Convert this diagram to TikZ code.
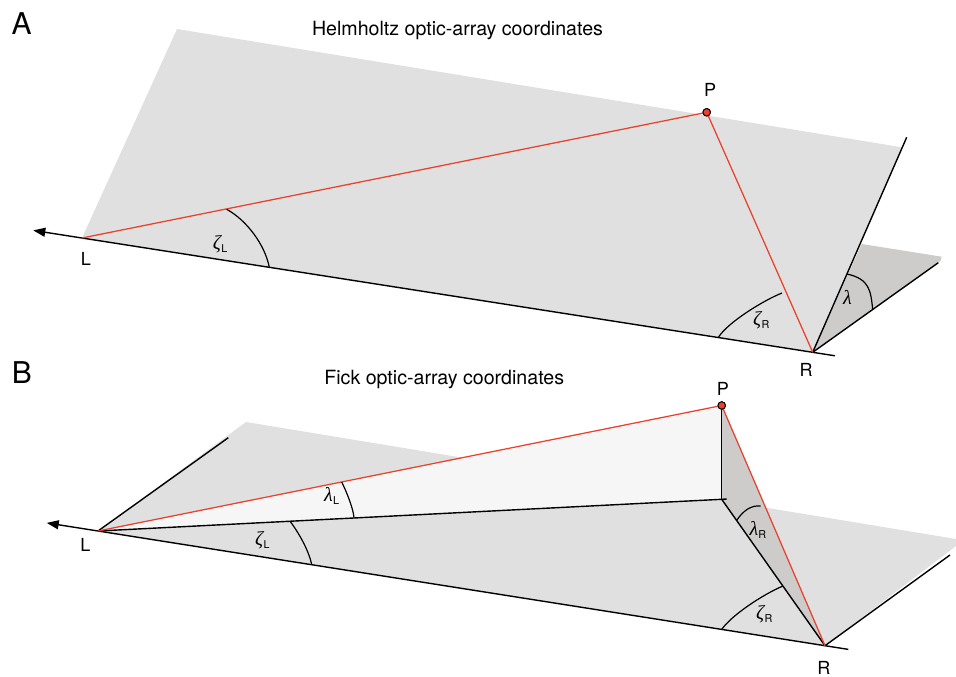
\documentclass[tikz,border=0pt]{standalone}
\usepackage{fontspec}
\setmainfont{TeX Gyre Heros}
\newfontfamily\grk{Liberation Serif}
\usetikzlibrary{arrows.meta,calc}
\definecolor{planegray}{HTML}{E0E0E0}
\definecolor{darkplane}{HTML}{CDCCCB}
\definecolor{lightfill}{HTML}{F5F6F5}
\definecolor{rayred}{HTML}{E8412C}
\newcommand\glab[2]{{\grk\itshape #1}\kern0.3pt\raisebox{-3pt}{\fontsize{10.8}{10.8}\selectfont #2}}
\begin{document}
\begin{tikzpicture}[x=1pt,y=-1pt,line join=round,
  axis/.style={black,line width=1.4pt},
  ray/.style={rayred,line width=1.25pt},
  anglearc/.style={black,line width=1.2pt},
  lbl/.style={inner sep=0,anchor=base,font=\fontsize{18}{18}\selectfont},
  panel/.style={inner sep=0,anchor=base,font=\fontsize{30}{30}\selectfont},
  ttl/.style={inner sep=0,anchor=base,font=\fontsize{19.6}{22}\selectfont},
  glbl/.style={inner sep=0,anchor=base west,font=\fontsize{20}{20}\selectfont},
  pdot/.style={circle,fill=rayred,draw=black,line width=0.9pt,minimum size=7.5pt,inner sep=0},
  arrowtip/.style={-{Triangle[length=12pt,width=9pt]}}]
\useasboundingbox (0,0) rectangle (956,677);

% ---------------- Panel A ----------------
\coordinate (LA) at (82,238);
\coordinate (RA) at (812.7,352.3);
\coordinate (TLA) at (177,29);
\coordinate (TRA) at (902,147.3);
\coordinate (IncA) at (906.7,137.3);
\coordinate (DkA) at (861.7,244);
\coordinate (DkB) at (941.7,256.7);
\coordinate (DkC) at (940.5,261);
\coordinate (FloorA) at (938.3,262.7);
\coordinate (TipA) at (33.3,230.4);
\coordinate (EndA) at ($(LA)!1.0305!(RA)$);

\fill[planegray] (LA) -- (TLA) -- (TRA) -- (RA) -- cycle;
\fill[darkplane] (RA) -- (DkA) -- (DkB) -- (DkC) -- cycle;

\draw[axis,arrowtip] (EndA) -- (TipA);
\draw[axis] (RA) -- (IncA);
\draw[axis] (RA) -- (FloorA);

\node[pdot] (PA) at (706.7,112.3) {};
\draw[ray] (LA) -- (PA.center) -- (RA);
\node[pdot] at (PA) {};

\draw[anglearc] (226.7,209.3) .. controls (246.7,220.3) and (264.9,244.7) .. (269.3,267.3);
\draw[anglearc] (782,293) .. controls (763.4,300.4) and (727.5,322.5) .. (718.3,337.5);
\draw[anglearc] (846.9,274) .. controls (869.7,279) and (870.7,290.7) .. (872.7,309.5);

\node[panel] (labA) at (21.7,35) {A};
\node[ttl] (titleA) at (457.5,36) {Helmholtz optic-array coordinates};
\node[lbl] (lblLA) at (86,265.7) {L};
\node[lbl] (lblPA) at (710,96.7) {P};
\node[lbl] (lblRA) at (806,376) {R};
\node[glbl] (zLA) at (212.7,249) {\glab{ζ}{L}};
\node[glbl] (zRA) at (753,325.6) {\glab{ζ}{R}};
\node[glbl] (lamA) at (843,304) {{\grk\itshape λ}};

% ---------------- Panel B ----------------
\coordinate (LB) at (98,531);
\coordinate (RB) at (825,645.7);
\coordinate (QB) at (721.7,499.3);
\coordinate (TLB) at (246,422);
\coordinate (TRB) at (956,539);
\coordinate (CRB) at (956,546);
\coordinate (UpB) at (228.3,437.7);
\coordinate (FloorB) at (950,555);
\coordinate (TipB) at (46.7,522.9);
\coordinate (EndB) at ($(LB)!1.032!(RB)$);
\coordinate (PBc) at (721.7,405.5);

\fill[planegray] (LB) -- (TLB) -- (TRB) -- (CRB) -- (RB) -- cycle;
\fill[lightfill] (LB) -- (PBc) -- (QB) -- cycle;
\fill[darkplane] (PBc) -- (QB) -- (RB) -- cycle;

\draw[axis,arrowtip] (EndB) -- (TipB);
\draw[axis] (LB) -- (UpB);
\draw[axis] (RB) -- (FloorB);
\draw[axis,shorten >=-5pt] (LB) -- (QB);
\draw[axis] (QB) -- (RB);
\draw[axis] (QB) -- (PBc);

\node[pdot] (PB) at (PBc) {};
\draw[ray] (LB) -- (PB.center) -- (RB);
\node[pdot] at (PB) {};

\draw[anglearc] (341.7,482) .. controls (346.2,491) and (353,507.5) .. (354,517.5);
\draw[anglearc] (290,521.2) .. controls (298.4,532.2) and (308.8,550.3) .. (311.7,564.7);
\draw[anglearc] (736.5,520.5) .. controls (743.3,510.8) and (750.7,505) .. (760.7,506);
\draw[anglearc] (783,586) .. controls (763.5,594.1) and (731.6,615.1) .. (721.7,629.4);

\node[panel] (labB) at (22,383.3) {B};
\node[ttl] (titleB) at (444.2,384) {Fick optic-array coordinates};
\node[lbl] (lblLB) at (85.3,551) {L};
\node[lbl] (lblPB) at (722.8,395) {P};
\node[lbl] (lblRB) at (823.8,674) {R};
\node[glbl] (lLB) at (324,501.7) {\glab{λ}{L}};
\node[glbl] (zLB) at (255,545.6) {\glab{ζ}{L}};
\node[glbl] (lRB) at (749.3,535) {\glab{λ}{R}};
\node[glbl] (zRB) at (756,619) {\glab{ζ}{R}};
\end{tikzpicture}
\end{document}
